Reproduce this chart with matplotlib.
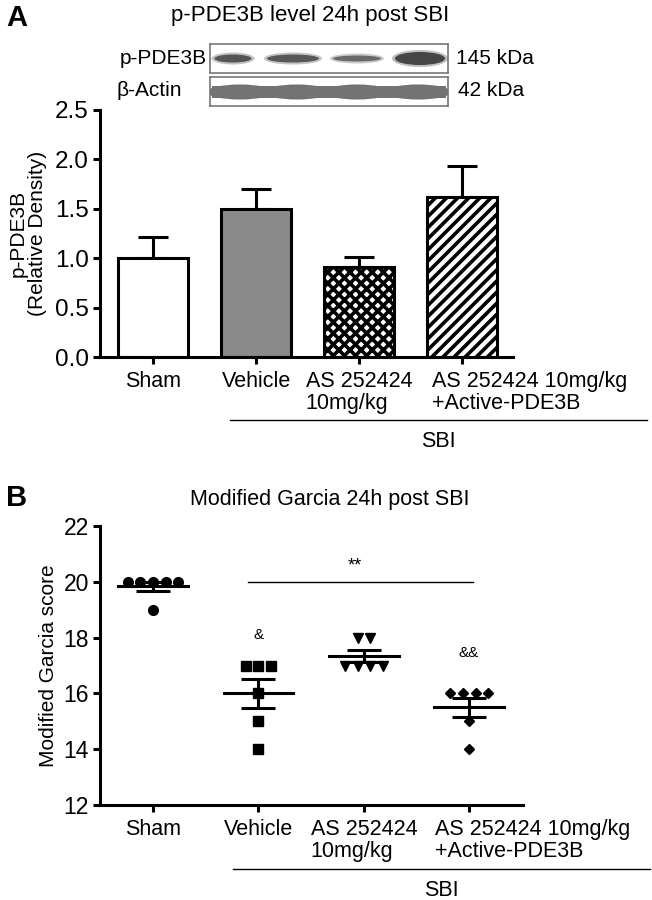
import numpy as np
import matplotlib
matplotlib.use("Agg")
import matplotlib.pyplot as plt
from matplotlib.lines import Line2D
from matplotlib.patches import Ellipse

plt.rcParams['font.family'] = ['Liberation Sans', 'DejaVu Sans']
plt.rcParams['hatch.linewidth'] = 2.6

# ---- data ----
groups = ["Sham", "Vehicle", "AS 252424\n10mg/kg", "AS 252424 10mg/kg\n+Active-PDE3B"]
density_mean = [1.0, 1.5, 0.91, 1.62]
density_sem = [0.21, 0.20, 0.10, 0.31]

garcia_sham = [20, 20, 20, 20, 20, 19]
garcia_vehicle = [17, 17, 17, 16, 15, 14]
garcia_as = [18, 18, 17, 17, 17, 17]
garcia_active = [16, 16, 16, 16, 15, 14]
garcia = [garcia_sham, garcia_vehicle, garcia_as, garcia_active]

W, H = 652, 900
fig = plt.figure(figsize=(6.52, 9), dpi=100)


def px_axes(x0, y0, x1, y1):
    # pixel box (top-left origin) -> figure axes
    return fig.add_axes([x0 / W, 1 - y1 / H, (x1 - x0) / W, (y1 - y0) / H])


def style_axis(ax, tsize):
    for s in ["top", "right"]:
        ax.spines[s].set_visible(False)
    for s in ["left", "bottom"]:
        ax.spines[s].set_linewidth(2.2)
    ax.tick_params(width=2.2, length=5, labelsize=tsize, pad=3)


def put_labels(ax, xs, left_shift):
    for i, (x, lab) in enumerate(zip(xs, groups)):
        if i < 3:
            ax.annotate(lab, (x, 0), xycoords=("data", "axes fraction"),
                        xytext=(0, -14), textcoords="offset pixels",
                        ha="center", va="top", multialignment="left",
                        fontsize=15.5, linespacing=1.05)
        else:
            ax.annotate(lab, (x, 0), xycoords=("data", "axes fraction"),
                        xytext=(-left_shift, -14), textcoords="offset pixels",
                        ha="left", va="top", multialignment="left",
                        fontsize=15.5, linespacing=1.05)


def sbi_bracket(x0, x1, y, ty):
    fig.add_artist(Line2D([x0 / W, x1 / W], [1 - y / H, 1 - y / H],
                          transform=fig.transFigure, color="black", lw=1.0))
    fig.text((x0 + x1) / 2 / W, 1 - ty / H, "SBI", ha="center", va="center",
             fontsize=15.5)


xs = np.arange(len(groups))

# ---- panel A ----
fig.text(17 / W, 1 - 18 / H, "A", fontsize=21, fontweight="bold",
         ha="center", va="center")
fig.text(310 / W, 1 - 16 / H, "p-PDE3B level 24h post SBI", fontsize=16,
         ha="center", va="center")

# western blot strips
blot1 = px_axes(210, 44, 448, 73)
blot2 = px_axes(210, 77, 448, 106)
for b in (blot1, blot2):
    b.set_xlim(210, 448)
    b.set_xticks([])
    b.set_yticks([])
    for s in b.spines.values():
        s.set_color("#777777")
        s.set_linewidth(1.2)
blot1.set_ylim(73, 44)
blot2.set_ylim(106, 77)

bands = [(233, 37, 8, "#555555"), (293, 52, 8, "#585858"),
         (357, 48, 6, "#6a6a6a"), (420, 50, 13, "#454545")]
for cx, w, h, c in bands:
    blot1.add_patch(Ellipse((cx, 58.5), w + 6, h + 4, color=c, alpha=0.35, lw=0))
    blot1.add_patch(Ellipse((cx, 58.5), w, h, color=c, lw=0))
for cx in (240, 297, 357, 418):
    blot2.add_patch(Ellipse((cx, 92), 66, 15, color="#6f6f6f", lw=0))
blot2.add_patch(plt.Rectangle((212, 86), 234, 12, color="#737373", lw=0))

fig.text(207 / W, 1 - 59 / H, "p-PDE3B", fontsize=15, ha="right", va="center")
fig.text(117 / W, 1 - 90 / H, "\u03b2-Actin", fontsize=15, ha="left", va="center")
fig.text(456 / W, 1 - 59 / H, "145 kDa", fontsize=15, ha="left", va="center")
fig.text(458 / W, 1 - 90 / H, "42 kDa", fontsize=15, ha="left", va="center")

axA = px_axes(100, 110, 513, 357)
colors = ["white", "#8a8a8a", "white", "white"]
hatches = [None, None, "xxx", "///"]
bars = axA.bar(xs, density_mean, width=0.68, color=colors,
               edgecolor="black", linewidth=2.2, zorder=2)
for b, h in zip(bars, hatches):
    if h:
        b.set_hatch(h)
axA.errorbar(xs, density_mean, yerr=[np.zeros(4), density_sem], fmt="none",
             ecolor="black", elinewidth=2.2, capsize=11, capthick=2.2, zorder=1)
axA.set_xlim(-0.515, 3.495)
axA.set_ylim(0, 2.5)
axA.set_yticks([0, 0.5, 1.0, 1.5, 2.0, 2.5])
axA.set_yticklabels(["0.0", "0.5", "1.0", "1.5", "2.0", "2.5"])
axA.set_xticks(xs)
axA.set_xticklabels([])
style_axis(axA, 17.5)
axA.set_ylabel("p-PDE3B\n(Relative Density)", fontsize=15, linespacing=1.0)
axA.yaxis.set_label_coords(-0.128, 0.5)
put_labels(axA, xs, 30)
sbi_bracket(230, 647, 420, 442)

# ---- panel B ----
fig.text(17 / W, 1 - 498 / H, "B", fontsize=21, fontweight="bold",
         ha="center", va="center")
fig.text(330 / W, 1 - 500 / H, "Modified Garcia 24h post SBI", fontsize=15.5,
         ha="center", va="center")

axB = px_axes(100, 526, 523, 805)
markers = ["o", "s", "v", "D"]
msizes = [7, 6.5, 7, 5.5]
for i, vals in enumerate(garcia):
    vals = np.array(vals, dtype=float)
    for v in np.unique(vals):
        k = int(np.sum(vals == v))
        offs = (np.arange(k) - (k - 1) / 2) * 0.12
        axB.plot(i + offs, np.full(k, v), ls="none", marker=markers[i],
                 ms=msizes[i], color="black", zorder=3)
    m = vals.mean()
    sem = vals.std(ddof=1) / np.sqrt(len(vals))
    axB.plot([i - 0.33, i + 0.33], [m, m], color="black", lw=2.2, zorder=2)
    axB.errorbar([i], [m], yerr=[[sem], [sem]], fmt="none", ecolor="black",
                 elinewidth=2.2, capsize=12, capthick=2.2, zorder=2)

axB.plot([0.9, 3.04], [20, 20], color="black", lw=1.0)
axB.text(1.91, 20.55, "**", ha="center", va="center", fontsize=13)
axB.text(1.0, 18.1, "&", ha="center", va="center", fontsize=11)
axB.text(2.99, 17.45, "&&", ha="center", va="center", fontsize=11)

axB.set_xlim(-0.503, 3.51)
axB.set_ylim(12, 22)
axB.set_yticks([12, 14, 16, 18, 20, 22])
axB.set_xticks(xs)
axB.set_xticklabels([])
style_axis(axB, 16.5)
axB.set_ylabel("Modified Garcia score", fontsize=15)
axB.yaxis.set_label_coords(-0.099, 0.5)
put_labels(axB, xs, 34)
sbi_bracket(233, 650, 869, 890)

fig.savefig("out.png", dpi=100)
